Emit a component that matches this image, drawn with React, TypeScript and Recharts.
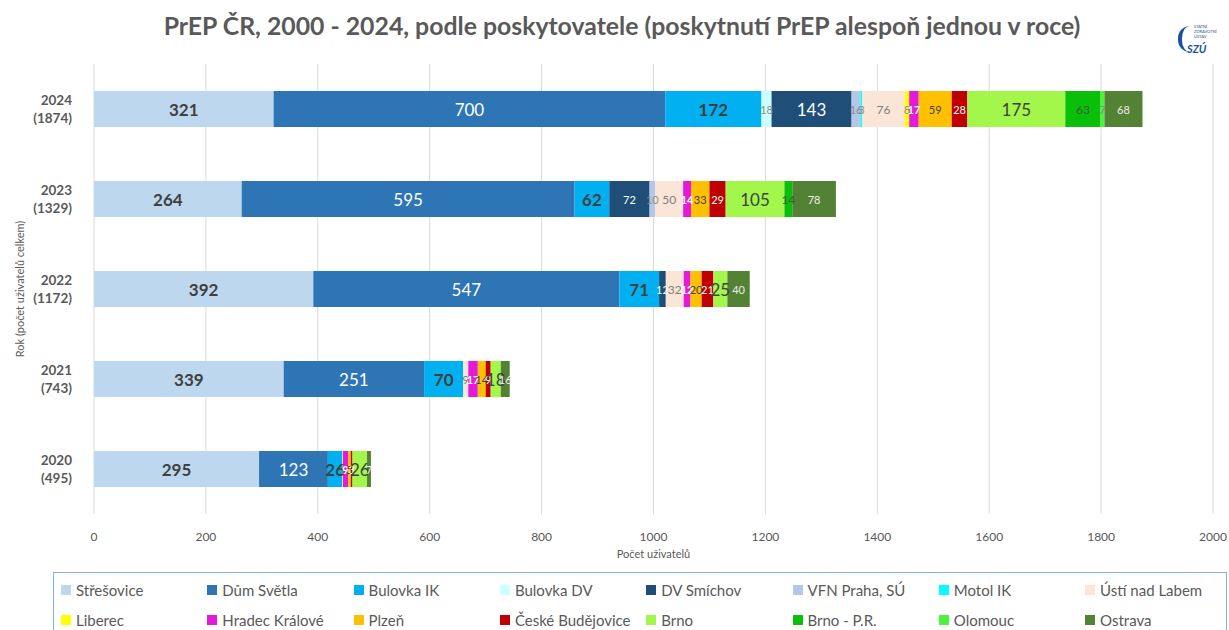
import React from 'react';
import { BarChart, Bar, XAxis, YAxis, CartesianGrid, LabelList } from 'recharts';

const years = ['2024', '2023', '2022', '2021', '2020'];
const totals = [1874, 1329, 1172, 743, 495];
const xTicks = [0, 200, 400, 600, 800, 1000, 1200, 1400, 1600, 1800, 2000];

const stresovice = [321, 264, 392, 339, 295];
const dumSvetla = [700, 595, 547, 251, 123];
const bulovkaIK = [172, 62, 71, 70, 26];
const bulovkaDV = [18, 0, 0, 0, null];
const dvSmichov = [143, 72, 12, null, null];
const vfn = [16, 10, 0, null, null];
const motol = [3, 0, null, null, null];
const usti = [76, 50, 32, 9, 1];
const liberec = [8, null, 0, null, null];
const hradec = [17, 14, 12, 17, 9];
const plzen = [59, 33, 20, 14, 5];
const budejovice = [28, 29, 21, 9, 3];
const brno = [175, 105, 25, 18, 26];
const brnoPR = [63, 14, 0, null, null];
const olomouc = [7, 0, null, null, null];
const ostrava = [68, 78, 40, 16, 7];

const seriesNames = [
  'Střešovice', 'Dům Světla', 'Bulovka IK', 'Bulovka DV', 'DV Smíchov', 'VFN Praha, SÚ', 'Motol IK', 'Ústí nad Labem',
  'Liberec', 'Hradec Králové', 'Plzeň', 'České Budějovice', 'Brno', 'Brno - P.R.', 'Olomouc', 'Ostrava',
];
const seriesValues = [
  stresovice, dumSvetla, bulovkaIK, bulovkaDV, dvSmichov, vfn, motol, usti,
  liberec, hradec, plzen, budejovice, brno, brnoPR, olomouc, ostrava,
];
const seriesColors = [
  '#BDD7EE', '#2E75B6', '#00B0F0', '#CCFFFF', '#1F4E79', '#B4C7E7', '#00FFFF', '#FBE5D6',
  '#FFFF00', '#E31BD8', '#FFC000', '#C00000', '#A2F74A', '#0ABF0A', '#4CF240', '#548235',
];
// label styles: [fill, fontSize, fontWeight]
const labelStyles: [string, number, string][] = [
  ['#404040', 17, 'bold'], ['#ffffff', 17, 'normal'], ['#404040', 17, 'bold'], ['#8c8c8c', 11, 'normal'],
  ['#ffffff', 11, 'normal'], ['#8c8c8c', 11, 'normal'], ['#8c8c8c', 11, 'normal'], ['#7f7f7f', 12, 'normal'],
  ['#8c8c8c', 11, 'normal'], ['#ffffff', 11, 'bold'], ['#404040', 11, 'normal'], ['#ffffff', 11, 'normal'],
  ['#404040', 17, 'normal'], ['#3a5f3a', 12, 'normal'], ['#8c8c8c', 11, 'normal'], ['#eeeeee', 11, 'normal'],
];

const data = years.map((y, i) => {
  const row: any = { year: y, total: totals[i] };
  seriesValues.forEach((arr, k) => { row['s' + k] = arr[i]; });
  return row;
});

const FONT = "Lato, 'Open Sans', sans-serif";

const makeLabel = (k: number) => (props: any) => {
  const { x, y, width, height, value } = props;
  if (value === null || value === undefined) return null;
  let [fill, size, weight] = labelStyles[k];
  if (k === 4 && Number(value) >= 100) size = 17;
  return (
    <text
      x={Number(x) + Number(width) / 2}
      y={Number(y) + Number(height) / 2}
      textAnchor="middle"
      dominantBaseline="central"
      fill={fill}
      fontSize={size}
      fontWeight={weight}
      fontFamily={FONT}
    >
      {value}
    </text>
  );
};

const YTick = (props: any) => {
  const { x, y, payload, index } = props;
  const idx = years.indexOf(payload.value);
  return (
    <g>
      <text x={x - 14} y={y - 9} textAnchor="end" dominantBaseline="central" fill="#595959" fontSize={13.5} fontWeight="bold" fontFamily={FONT}>
        {payload.value}
      </text>
      <text x={x - 14} y={y + 9} textAnchor="end" dominantBaseline="central" fill="#595959" fontSize={13.5} fontWeight="bold" fontFamily={FONT}>
        ({totals[idx >= 0 ? idx : index]})
      </text>
    </g>
  );
};

const Legend = () => (
  <div
    style={{
      position: 'absolute', left: 53, top: 572, width: 1174, height: 70,
      border: '1px solid #7FB2E5', boxSizing: 'border-box', fontFamily: FONT,
    }}
  >
    {seriesNames.map((n, k) => {
      const col = k % 8;
      const row = Math.floor(k / 8);
      return (
        <div
          key={n}
          style={{
            position: 'absolute', left: 7 + col * 146.3, top: 8 + row * 30, height: 18,
            display: 'flex', alignItems: 'center', whiteSpace: 'nowrap',
          }}
        >
          <span style={{ display: 'inline-block', width: 10, height: 10, background: seriesColors[k], marginRight: 5 }} />
          <span style={{ fontSize: 15, color: '#595959' }}>{n}</span>
        </div>
      );
    })}
  </div>
);

export default function App() {
  return (
    <div style={{ position: 'absolute', left: 0, top: 0, width: 1229, height: 630, background: '#fff', overflow: 'hidden' }}>
      <div
        style={{
          position: 'absolute', left: 0, top: 11, width: 1244, textAlign: 'center',
          fontFamily: FONT, fontWeight: 'bold', fontSize: 24.8, color: '#595959',
        }}
      >
        PrEP ČR, 2000 - 2024, podle poskytovatele (poskytnutí PrEP alespoň jednou v roce)
      </div>
      <div style={{ position: 'absolute', left: 1178, top: 22, width: 40, height: 34, fontFamily: FONT }}>
        <div style={{ position: 'absolute', left: 0, top: 4, width: 14, height: 26, borderLeft: '4px solid #1E50A0', borderRadius: '12px 0 0 12px', boxSizing: 'border-box' }} />
        <div style={{ position: 'absolute', left: 16, top: 2, fontSize: 4, color: '#1E50A0', lineHeight: '5px' }}>STÁTNÍ<br />ZDRAVOTNÍ<br />ÚSTAV</div>
        <div style={{ position: 'absolute', left: 9, top: 20, fontStyle: 'italic', fontWeight: 'bold', fontSize: 11, color: '#1E50A0' }}>SZÚ</div>
      </div>
      <BarChart
        width={1229}
        height={630}
        layout="vertical"
        data={data}
        margin={{ top: 64, right: 16, bottom: 70, left: 14 }}
        barSize={36}
      >
        <CartesianGrid horizontal={false} stroke="#d9d9d9" />
        <XAxis
          type="number"
          domain={[0, 2000]}
          ticks={xTicks}
          axisLine={false}
          tickLine={false}
          height={46}
          tick={{ fill: '#595959', fontSize: 12, fontFamily: FONT }}
          tickMargin={12}
          label={{ value: 'Počet uživatelů', position: 'insideBottom', offset: 2, fill: '#595959', fontSize: 11, fontFamily: FONT }}
        />
        <YAxis
          type="category"
          dataKey="year"
          width={80}
          axisLine={false}
          tickLine={false}
          tick={<YTick />}
          label={{ value: 'Rok (počet uživatelů celkem)', angle: -90, position: 'insideLeft', offset: 6, fill: '#595959', fontSize: 11, fontFamily: FONT, style: { textAnchor: 'middle' } }}
        />
        {seriesNames.map((n, k) => (
          <Bar key={n} dataKey={'s' + k} name={n} stackId="a" fill={seriesColors[k]} isAnimationActive={false}>
            <LabelList dataKey={'s' + k} content={makeLabel(k)} />
          </Bar>
        ))}
      </BarChart>
      <Legend />
    </div>
  );
}
